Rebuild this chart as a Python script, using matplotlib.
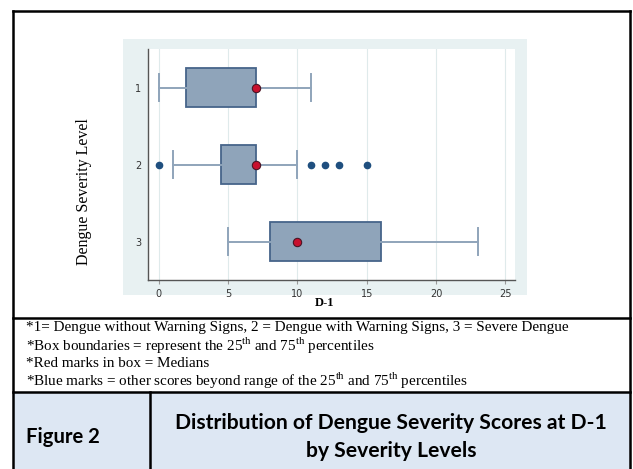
import matplotlib.pyplot as plt
from matplotlib.patches import Rectangle
from matplotlib.lines import Line2D

plt.rcParams['mathtext.fontset'] = 'custom'
plt.rcParams['mathtext.rm'] = 'Liberation Serif'

# box plot summary values
levels = [1, 2, 3]
whislo = [0, 1, 5]
q1 = [2, 4.5, 8]
med = [7, 7, 10]
q3 = [7, 7, 16]
whishi = [11, 10, 23]
fliers = [[], [0, 11, 12, 13, 15], []]
xticks = [0, 5, 10, 15, 20, 25]

notes = [
    "*1= Dengue without Warning Signs, 2 = Dengue with Warning Signs, 3 = Severe Dengue",
    "*Box boundaries = represent the 25$^{\\rm th}$ and 75$^{\\rm th}$ percentiles",
    "*Red marks in box = Medians",
    "*Blue marks = other scores beyond range of the 25$^{\\rm th}$ and 75$^{\\rm th}$ percentiles",
]

W, H = 633, 469
fig = plt.figure(figsize=(6.33, 4.69), dpi=100)


def fx(px):
    return px / W


def fy(py):
    return 1 - py / H


def frect(x0, y0, x1, y1, **kw):
    r = Rectangle((fx(x0), fy(y1)), fx(x1) - fx(x0), fy(y0) - fy(y1),
                  transform=fig.transFigure, zorder=-10, **kw)
    fig.patches.append(r)


def fline(x0, y0, x1, y1, lw=1.8):
    fig.lines.append(Line2D([fx(x0), fx(x1)], [fy(y0), fy(y1)],
                            transform=fig.transFigure, color='black', lw=lw))


# graph region background
frect(123, 39, 527, 295, facecolor='#e8f1f2', edgecolor='none')
# caption table
frect(13, 392, 630, 470, facecolor='#dde7f3', edgecolor='none')
fline(13, 11, 630, 11)
fline(13, 11, 13, 470)
fline(630, 11, 630, 470)
fline(13, 318, 630, 318)
fline(13, 392, 630, 392)
fline(150, 392, 150, 470)

ax = fig.add_axes([fx(148), fy(280), fx(515) - fx(148), fy(49) - fy(280)])

stats = []
for i in range(len(levels)):
    stats.append(dict(whislo=whislo[i], q1=q1[i], med=med[i], q3=q3[i],
                      whishi=whishi[i], fliers=fliers[i]))

ax.bxp(stats, positions=levels, orientation='horizontal', widths=0.5,
       capwidths=0.34, patch_artist=True,
       boxprops=dict(facecolor='#8fa4ba', edgecolor='#46648a', lw=1.3),
       whiskerprops=dict(color='#8fa4ba', lw=1.4),
       capprops=dict(color='#8fa4ba', lw=1.4),
       medianprops=dict(lw=0),
       flierprops=dict(marker='o', markerfacecolor='#1f4f7f',
                       markeredgecolor='#1f4f7f', markersize=4.5))
ax.plot(med, levels, 'o', mfc='#c8102e', mec='#4a1525', mew=0.8, ms=6,
        zorder=5)

ax.set_ylim(3.5, 0.5)
ax.set_xlim(-0.77, 25.69)
ax.set_xticks(xticks)
ax.set_yticks(levels)
ax.set_yticklabels([str(v) for v in levels])
ax.grid(axis='x', color='#dfeaeb', lw=0.8)
ax.set_axisbelow(True)
for s in ['top', 'right']:
    ax.spines[s].set_visible(False)
for s in ['left', 'bottom']:
    ax.spines[s].set_color('#555555')
    ax.spines[s].set_linewidth(1.0)
ax.tick_params(axis='both', labelsize=7, colors='#333333')
ax.tick_params(axis='x', length=3, color='#999999')
ax.tick_params(axis='y', length=0, pad=5)

fig.text(fx(84), fy(192), 'Dengue Severity Level', rotation=90,
         family='Liberation Serif', fontsize=11.5, ha='center', va='center')
fig.text(fx(325), fy(303), 'D-1', family='Liberation Serif',
         fontweight='bold', fontsize=9, ha='center', va='center')

note_y = [328, 346, 363.5, 381]
for t, y in zip(notes, note_y):
    fig.text(fx(26), fy(y), t, family='Liberation Serif', fontsize=10.9,
             ha='left', va='center')

fig.text(fx(26), fy(437), 'Figure 2', family='Lato', fontweight='bold',
         fontsize=14.6, ha='left', va='center')
fig.text(fx(391), fy(437),
         'Distribution of Dengue Severity Scores at D-1\nby Severity Levels',
         family='Lato', fontweight='bold', fontsize=15.2, ha='center',
         va='center', linespacing=1.45)

fig.savefig('out.png', dpi=100)
